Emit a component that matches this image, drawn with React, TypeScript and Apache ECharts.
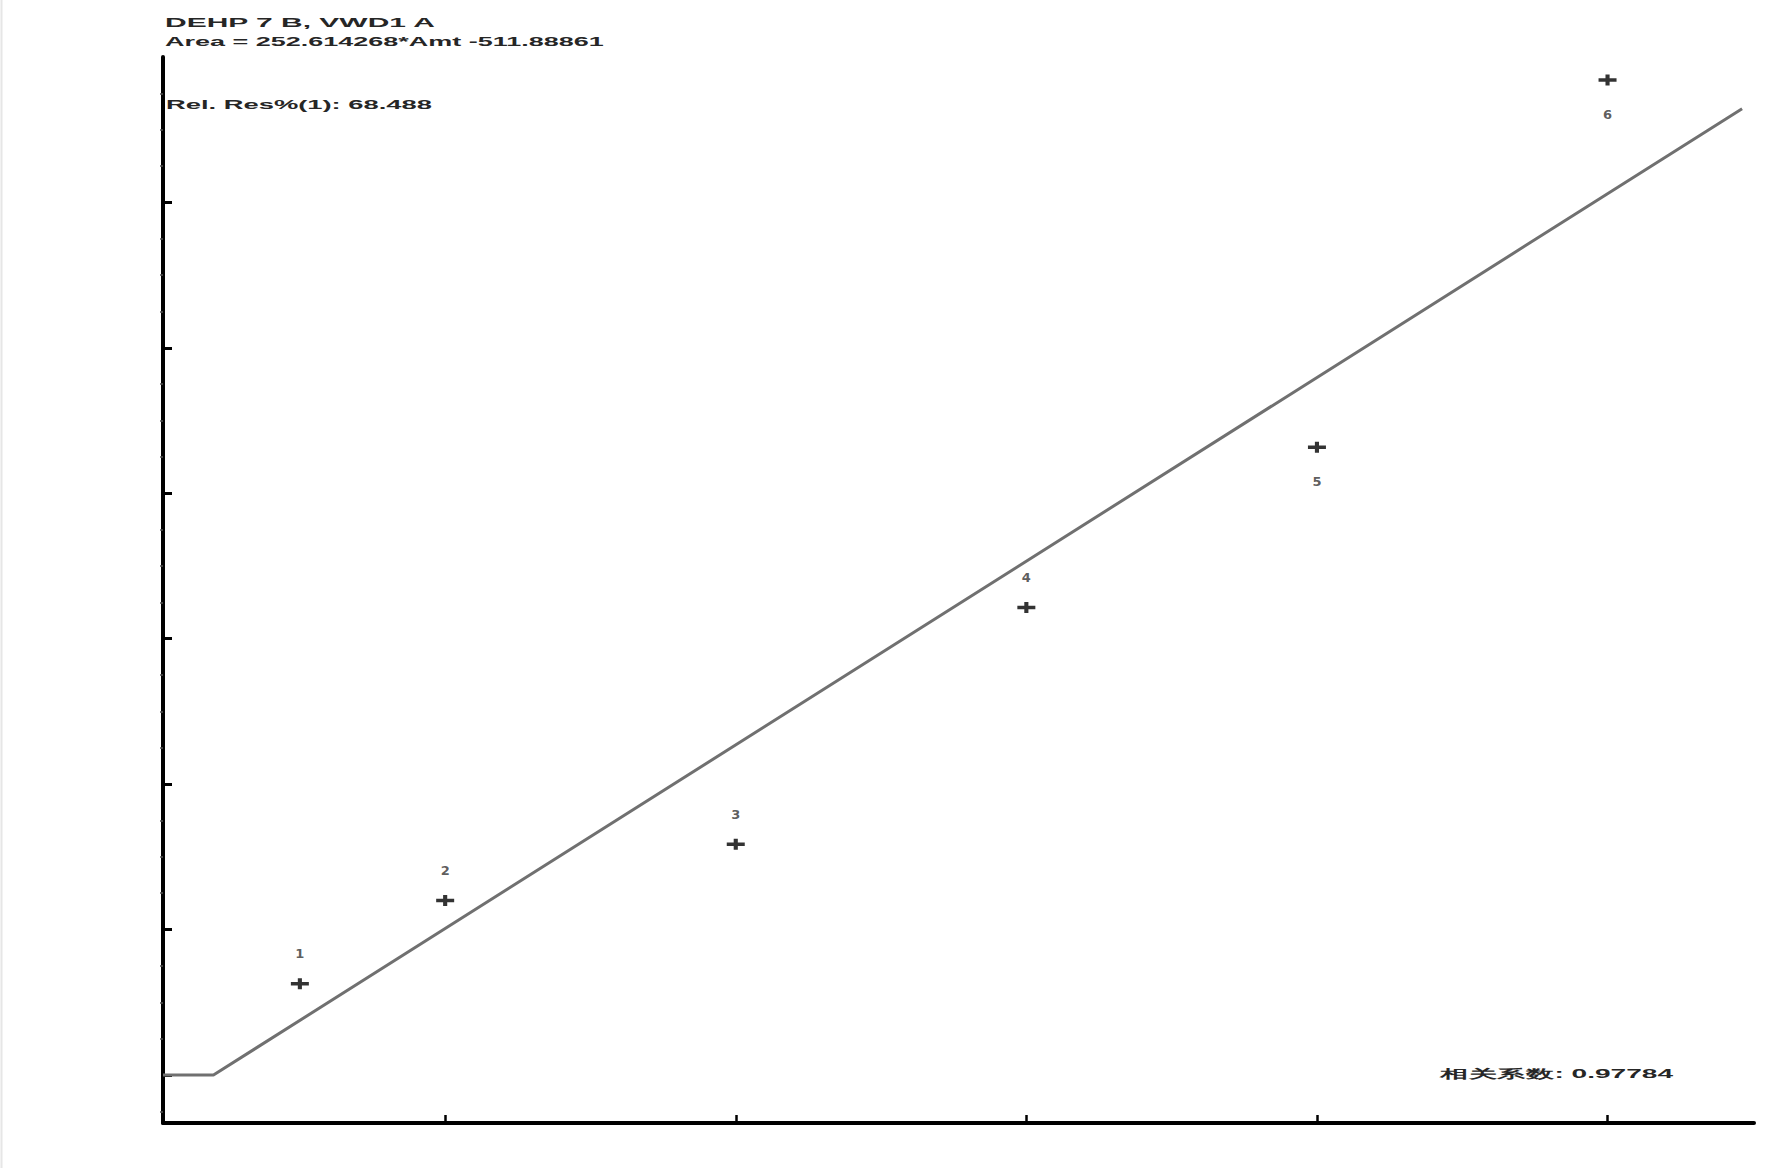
import React, { useEffect, useRef } from "react";
import * as echarts from "echarts";

// Calibration points (Amt, Area)
const amounts = [5, 10, 20, 30, 40, 50];
const areas = [1255, 2400, 3172, 6428, 8634, 13683];
const pointLabels = ["1", "2", "3", "4", "5", "6"];
const labelAbove = [true, true, true, true, false, false];

// Fit: Area = slope * Amt + intercept (clipped at 0)
const slope = 252.614268;
const intercept = -511.88861;
const fitStart = 0.29;
const fitEnd = 54.63;

const xTicks = [10, 20, 30, 40, 50];
const yTicks = [0, 2000, 4000, 6000, 8000, 10000, 12000];
const yMinorTicks = [
  -500, 500, 1000, 1500, 2500, 3000, 3500, 4500, 5000, 5500, 6500, 7000, 7500,
  8500, 9000, 9500, 10500, 11000, 11500, 12500, 13000, 13500,
];

const headerLine1 = "DEHP 7 B, VWD1 A";
const headerLine2 = "Area = 252.614268*Amt -511.88861";
const relRes = "Rel. Res%(1): 68.488";
const corr = "相关系数: 0.97784";

export default function App() {
  const ref = useRef<HTMLDivElement>(null);
  useEffect(() => {
    if (!ref.current) return;
    const chart = echarts.init(ref.current, undefined, { renderer: "svg" });
    const zeroX = -intercept / slope;
    const fitLine = [
      [fitStart, 0],
      [zeroX, 0],
      [fitEnd, slope * fitEnd + intercept],
    ];
    const plus = "path://M0,3.4H5.4V0H8.6V3.4H14V6.6H8.6V10H5.4V6.6H0Z";
    const txt = (text: string, x: number, y: number, sx: number) => ({
      type: "text",
      x,
      y,
      scaleX: sx,
      scaleY: 1,
      style: {
        text,
        x: 0,
        y: 0,
        fill: "#262626",
        font: "bold 12px 'Liberation Sans', Arial, sans-serif",
        textVerticalAlign: "middle",
      },
      z: 10,
    });
    chart.setOption({
      animation: false,
      backgroundColor: "#ffffff",
      grid: { left: 163, right: 15, top: 57, bottom: 45 },
      xAxis: {
        type: "value",
        min: 0.29,
        max: 55.04,
        splitLine: { show: false },
        axisLine: { show: true, onZero: false, lineStyle: { color: "#000", width: 4 } },
        axisTick: {
          show: true,
          inside: true,
          length: 8,
          customValues: xTicks,
          lineStyle: { color: "#000", width: 2.5 },
        },
        axisLabel: { show: false, customValues: xTicks },
      },
      yAxis: [
        {
          type: "value",
          min: -660,
          max: 14000,
          splitLine: { show: false },
          axisLine: { show: true, onZero: false, lineStyle: { color: "#000", width: 4 } },
          axisTick: {
            show: true,
            inside: true,
            length: 9,
            customValues: yTicks,
            lineStyle: { color: "#000", width: 3 },
          },
          axisLabel: { show: false, customValues: yTicks },
        },
        {
          type: "value",
          position: "left",
          min: -660,
          max: 14000,
          splitLine: { show: false },
          axisLine: { show: false },
          axisTick: {
            show: true,
            inside: false,
            length: 3,
            customValues: yMinorTicks,
            lineStyle: { color: "#555", width: 1.5 },
          },
          axisLabel: { show: false, customValues: yMinorTicks },
        },
      ],
      series: [
        {
          type: "line",
          data: fitLine,
          symbol: "none",
          lineStyle: { color: "#707070", width: 3 },
          z: 2,
        },
        {
          type: "scatter",
          data: amounts.map((a, i) => ({
            value: [a, areas[i]],
            label: {
              show: true,
              formatter: pointLabels[i],
              position: labelAbove[i] ? "top" : "bottom",
              distance: labelAbove[i] ? 18 : 22,
              color: "#333",
              fontSize: 13,
              fontWeight: "bold",
              fontFamily: "'DejaVu Sans', sans-serif",
            },
          })),
          symbol: plus,
          symbolSize: [18, 11],
          itemStyle: { color: "#000" },
          z: 3,
        },
      ],
      graphic: [
        txt(headerLine1, 165, 23, 2.5),
        txt(headerLine2, 165, 42, 2.25),
        txt(relRes, 166, 105, 2.28),
        txt(corr, 1440, 1074, 2.34),
        {
          type: "line",
          shape: { x1: 1.5, y1: 0, x2: 1.5, y2: 1168 },
          style: { stroke: "#e6e6e6", lineWidth: 2 },
        },
      ],
    });
    return () => chart.dispose();
  }, []);
  return (
    <div
      ref={ref}
      style={{ position: "fixed", left: 0, top: 0, width: 1769, height: 1168, background: "#fff" }}
    />
  );
}
